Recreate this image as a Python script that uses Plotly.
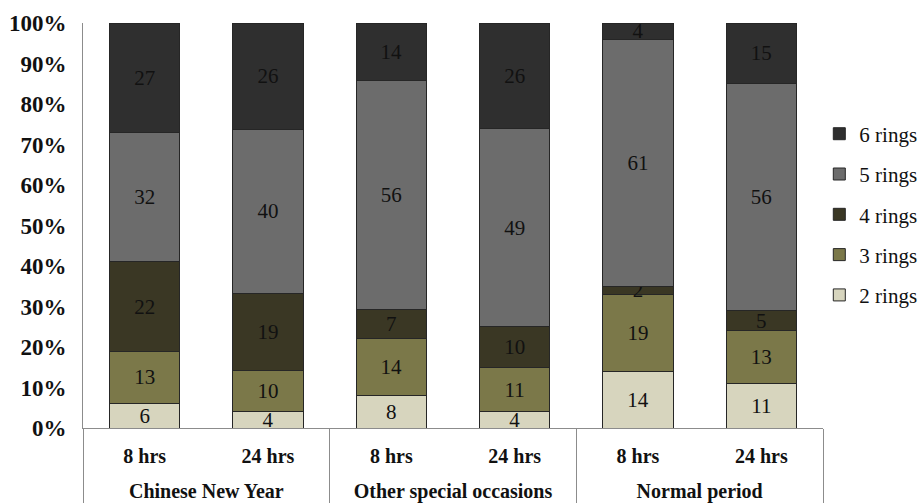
import plotly.graph_objects as go

# Groups and durations (multi-category x axis)
groups = ["Chinese New Year", "Chinese New Year",
          "Other special occasions", "Other special occasions",
          "Normal period", "Normal period"]
durations = ["8 hrs", "24 hrs", "8 hrs", "24 hrs", "8 hrs", "24 hrs"]

# Share of each ring count (%)
rings2 = [6, 4, 8, 4, 14, 11]
rings3 = [13, 10, 14, 11, 19, 13]
rings4 = [22, 19, 7, 10, 2, 5]
rings5 = [32, 40, 56, 49, 61, 56]
rings6 = [27, 26, 14, 26, 4, 15]

series = [
    ("2 rings", rings2, "#d7d5be"),
    ("3 rings", rings3, "#7b7849"),
    ("4 rings", rings4, "#3a3724"),
    ("5 rings", rings5, "#6c6c6c"),
    ("6 rings", rings6, "#2f2f2f"),
]

serif = "Liberation Serif"


def big(s):
    return "<span style='font-size:20px'>" + s + "</span>"


# group labels sit one (tight) line lower than the duration labels
group_labels = ["<br>" + big(g) for g in groups]
duration_labels = [big(d) for d in durations]

fig = go.Figure()
for i, (name, vals, color) in enumerate(series):
    fig.add_trace(go.Bar(
        x=[group_labels, duration_labels],
        y=vals,
        name=name,
        legendgroup=name,
        legendrank=len(series) - i,
        marker=dict(color=color, line=dict(color="#262626", width=1)),
        text=[str(v) for v in vals],
        textposition="inside",
        insidetextanchor="middle",
        textangle=0,
        constraintext="none",
        textfont=dict(family=serif, size=21, color="#111111"),
        width=0.57,
        hoverinfo="skip",
    ))

fig.update_layout(
    barmode="stack",
    barnorm="percent",
    width=919,
    height=503,
    margin=dict(l=83, r=96, t=23, b=75, autoexpand=False),
    paper_bgcolor="white",
    plot_bgcolor="white",
    showlegend=True,
    legend=dict(
        x=0.995, xanchor="left", y=0.527, yanchor="middle",
        traceorder="grouped",
        tracegroupgap=10,
        font=dict(family=serif, size=21, color="#111111"),
        itemwidth=30,
        bgcolor="rgba(0,0,0,0)",
    ),
    uniformtext=dict(mode=False),
)

fig.update_yaxes(
    range=[0, 100],
    dtick=10,
    ticksuffix="%",
    showgrid=False,
    zeroline=False,
    showline=True,
    linecolor="#8c8c8c",
    linewidth=1,
    ticks="",
    ticklabelstandoff=11,
    tickfont=dict(family=serif, size=23, color="#111111", weight="bold"),
)

fig.update_xaxes(
    type="multicategory",
    showline=True,
    linecolor="#8c8c8c",
    linewidth=1,
    showgrid=False,
    ticks="",
    showdividers=True,
    dividercolor="#8c8c8c",
    dividerwidth=1,
    ticklabelstandoff=12,
    tickfont=dict(family=serif, size=18, color="#111111", weight="bold"),
)

fig.write_html("out.html")
